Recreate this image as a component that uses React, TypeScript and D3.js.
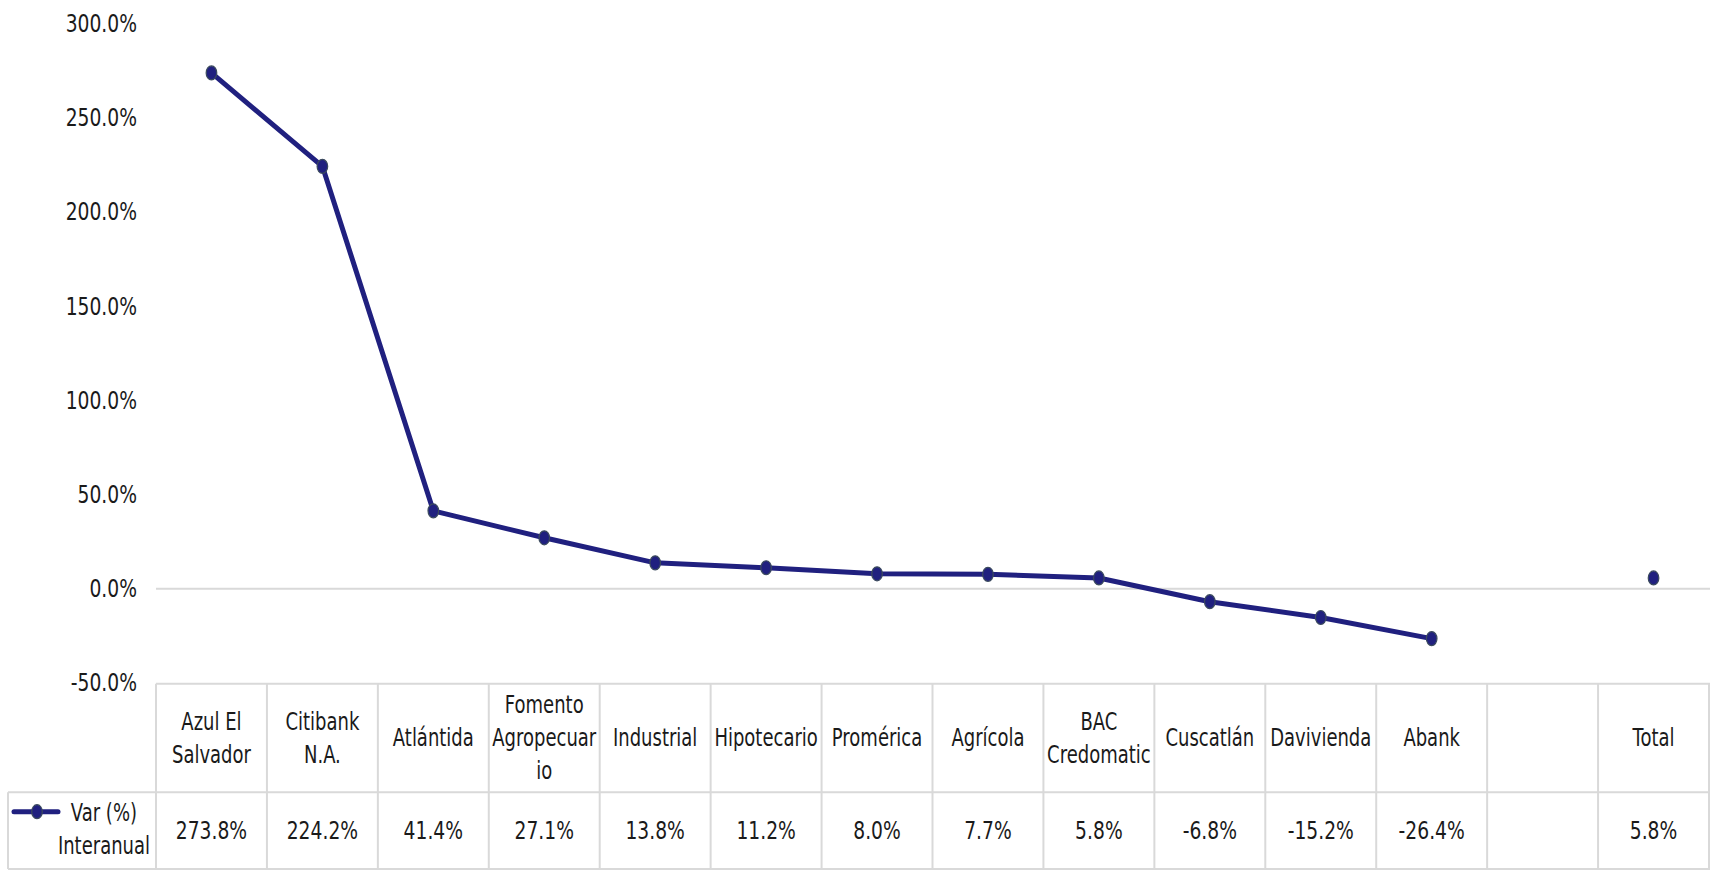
import React from "react";
import * as d3 from "d3";

const categories: string[][] = [
  ["Azul El", "Salvador"],
  ["Citibank", "N.A."],
  ["Atlántida"],
  ["Fomento", "Agropecuar", "io"],
  ["Industrial"],
  ["Hipotecario"],
  ["Promérica"],
  ["Agrícola"],
  ["BAC", "Credomatic"],
  ["Cuscatlán"],
  ["Davivienda"],
  ["Abank"],
  [],
  ["Total"],
];
const values: (number | null)[] = [273.8, 224.2, 41.4, 27.1, 13.8, 11.2, 8.0, 7.7, 5.8, -6.8, -15.2, -26.4, null, 5.8];
const yTicks: number[] = [-50, 0, 50, 100, 150, 200, 250, 300];
const seriesName: string[] = ["Var (%)", "Interanual"];

const W = 1716;
const H = 872;
const FONT = "'DejaVu Sans', sans-serif";
const LINE = "#20207f";
const GRID = "#d9d9d9";
const TEXT = "#1a1a1a";
const FS = 24;

function T(props: { x: number; y: number; anchor: "start" | "middle" | "end"; sx: number; children: React.ReactNode }) {
  return (
    <g transform={`translate(${props.x},${props.y}) scale(${props.sx},1)`}>
      <text x={0} y={0} textAnchor={props.anchor} dominantBaseline="central" fontSize={FS} fill={TEXT}>
        {props.children}
      </text>
    </g>
  );
}

export default function App() {
  const left = 156;
  const right = 1709;
  const tableTop = 683.7;
  const rowSep = 792.3;
  const tableBottom = 869;
  const legendLeft = 8;

  const keys = categories.map((_, i) => String(i));
  const x = d3.scaleBand<string>().domain(keys).range([left, right]).padding(0);
  const y = d3.scaleLinear().domain([-50, 300]).range([683.1, 23.5]);
  const cx = (i: number) => (x(String(i)) as number) + x.bandwidth() / 2;

  const pts = values.map((v, i) => ({ v, i }));
  const lineGen = d3
    .line<{ v: number | null; i: number }>()
    .defined((d) => d.v !== null && d.i < 12)
    .x((d) => cx(d.i))
    .y((d) => y(d.v as number));

  const fmt = (v: number) => v.toFixed(1) + "%";
  const SXN = 0.78;
  const SXW = 0.75;

  return (
    <svg
      width={W}
      height={H}
      style={{ position: "absolute", left: 0, top: 0, background: "#fff" }}
      fontFamily={FONT}
    >
      <line x1={left} x2={1710} y1={y(0)} y2={y(0)} stroke={GRID} strokeWidth={2} />

      {yTicks.map((t) => (
        <T key={t} x={137} y={y(t)} anchor="end" sx={SXN}>
          {fmt(t)}
        </T>
      ))}

      <g stroke={GRID} strokeWidth={2} fill="none">
        <line x1={left} x2={1710} y1={tableTop} y2={tableTop} />
        <line x1={legendLeft} x2={1710} y1={rowSep} y2={rowSep} />
        <line x1={legendLeft} x2={1710} y1={tableBottom} y2={tableBottom} />
        <line x1={legendLeft} x2={legendLeft} y1={rowSep} y2={tableBottom} />
        {keys.map((k) => (
          <line key={k} x1={x(k) as number} x2={x(k) as number} y1={tableTop} y2={tableBottom} />
        ))}
        <line x1={right} x2={right} y1={tableTop} y2={tableBottom} />
      </g>

      {categories.map((lines, i) => {
        const mid = (tableTop + rowSep) / 2;
        const sp = 33;
        const start = mid - ((lines.length - 1) * sp) / 2;
        return (
          <g key={i}>
            {lines.map((l, j) => (
              <T key={j} x={cx(i)} y={start + j * sp} anchor="middle" sx={SXW}>
                {l}
              </T>
            ))}
          </g>
        );
      })}

      {values.map((v, i) =>
        v === null ? null : (
          <T key={i} x={cx(i)} y={(rowSep + tableBottom) / 2} anchor="middle" sx={SXN}>
            {fmt(v)}
          </T>
        )
      )}

      <line x1={14} x2={58} y1={811.7} y2={811.7} stroke={LINE} strokeWidth={5} strokeLinecap="round" />
      <ellipse cx={37} cy={811.7} rx={5.3} ry={7} fill={LINE} stroke="#3b4a5e" strokeWidth={1.2} />
      <T x={137} y={813} anchor="end" sx={SXW}>{seriesName[0]}</T>
      <T x={150} y={846} anchor="end" sx={SXW}>{seriesName[1]}</T>

      <path d={lineGen(pts) || ""} fill="none" stroke={LINE} strokeWidth={5} strokeLinejoin="round" />
      {values.map((v, i) =>
        v === null ? null : (
          <ellipse
            key={i}
            cx={cx(i)}
            cy={y(v)}
            rx={5.3}
            ry={7}
            fill={LINE}
            stroke="#3b4a5e"
            strokeWidth={1.2}
          />
        )
      )}
    </svg>
  );
}
